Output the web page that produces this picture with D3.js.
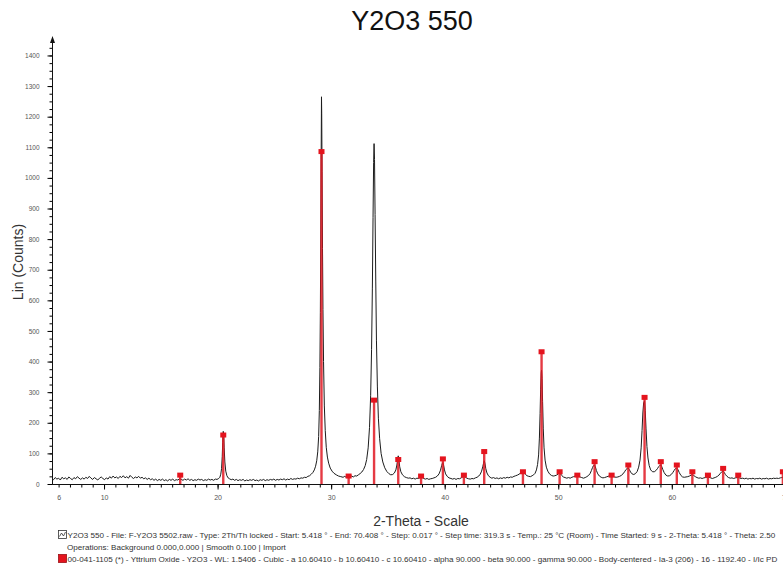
<!DOCTYPE html>
<html>
<head>
<meta charset="utf-8">
<script src="https://cdn.jsdelivr.net/npm/d3@7"></script>
<style>
  body { margin: 0; background: #fff; }
  svg { display: block; }
</style>
</head>
<body>
<svg id="chart" width="783" height="567"></svg>
<script>
// Measured diffraction pattern: [2-Theta (deg), intensity (counts)]
const pattern = [
[5.42,18],[5.55,14],[5.7,21],[5.85,16],[6.0,19],[6.15,13],[6.3,22],[6.45,17],[6.6,20],[6.75,15],[6.9,23],[7.05,18],[7.2,14],[7.35,21],[7.5,17],[7.65,24],[7.8,19],[7.95,15],[8.1,20],[8.25,16],[8.4,22],[8.55,18],[8.7,25],[8.85,19],[9.0,15],[9.15,21],[9.3,17],[9.45,13],[9.6,19],[9.75,23],[9.9,18],[10.05,14],[10.2,20],[10.35,16],[10.5,24],[10.65,19],[10.8,26],[10.95,20],[11.1,23],[11.25,18],[11.4,25],[11.55,21],[11.7,27],[11.85,20],[12.0,24],[12.15,19],[12.3,28],[12.45,22],[12.6,18],[12.75,23],[12.9,20],[13.05,25],[13.2,19],[13.35,22],[13.5,17],[13.65,20],[13.8,15],[13.95,19],[14.1,14],[14.25,17],[14.4,12],[14.55,16],[14.7,11],[14.85,15],[15.0,12],[15.15,16],[15.3,11],[15.45,14],[15.6,10],[15.75,15],[15.9,12],[16.05,16],[16.2,11],[16.35,14],[16.5,13],[16.65,17],[16.8,15],[16.95,12],[17.1,16],[17.25,13],[17.4,17],[17.55,12],[17.7,15],[17.85,11],[18.0,14],[18.15,12],[18.3,16],[18.45,13],[18.6,15],[18.75,11],[18.9,14],[19.05,12],[19.2,16],[19.35,13],[19.5,15],[19.65,12],[19.8,16],[19.95,15],[20.1,18],[20.2,22],[20.28,32],[20.35,50],[20.41,90],[20.45,135],[20.5,172],[20.54,158],[20.58,118],[20.64,72],[20.72,42],[20.82,27],[20.93,20],[21.05,17],[21.2,14],[21.35,16],[21.5,12],[21.65,15],[21.8,11],[21.95,14],[22.1,12],[22.25,15],[22.4,10],[22.55,13],[22.7,11],[22.85,14],[23.0,12],[23.15,15],[23.3,11],[23.45,13],[23.6,10],[23.75,14],[23.9,12],[24.05,15],[24.2,11],[24.35,14],[24.5,12],[24.65,15],[24.8,13],[24.95,16],[25.1,12],[25.25,15],[25.4,13],[25.55,16],[25.7,14],[25.85,17],[26.0,13],[26.15,16],[26.3,14],[26.45,18],[26.6,15],[26.75,17],[26.9,16],[27.05,19],[27.2,17],[27.35,20],[27.5,19],[27.65,22],[27.8,21],[27.95,25],[28.1,27],[28.25,32],[28.4,38],[28.52,46],[28.63,58],[28.73,76],[28.82,105],[28.9,155],[28.96,240],[29.01,380],[29.05,560],[29.09,820],[29.12,1060],[29.15,1265],[29.17,1210],[29.2,1020],[29.24,770],[29.28,570],[29.33,400],[29.4,255],[29.48,175],[29.57,120],[29.67,88],[29.78,68],[29.92,52],[30.08,42],[30.25,35],[30.45,30],[30.65,26],[30.85,24],[31.05,22],[31.2,25],[31.35,21],[31.5,24],[31.65,22],[31.8,26],[31.95,23],[32.1,27],[32.25,26],[32.4,30],[32.55,34],[32.7,39],[32.85,47],[33.0,60],[33.13,80],[33.26,118],[33.38,185],[33.48,290],[33.56,440],[33.63,640],[33.69,870],[33.74,1050],[33.78,1112],[33.82,1060],[33.87,880],[33.93,660],[33.99,470],[34.07,320],[34.16,215],[34.27,148],[34.4,100],[34.55,72],[34.72,53],[34.9,41],[35.08,34],[35.25,30],[35.42,31],[35.57,36],[35.7,46],[35.79,62],[35.86,82],[35.91,92],[35.96,80],[36.04,56],[36.14,40],[36.28,30],[36.45,24],[36.62,21],[36.8,19],[36.95,20],[37.1,17],[37.25,19],[37.4,16],[37.55,19],[37.7,18],[37.82,21],[37.92,24],[38.02,21],[38.15,18],[38.3,16],[38.45,18],[38.6,15],[38.75,17],[38.9,18],[39.05,20],[39.2,22],[39.35,26],[39.5,33],[39.63,45],[39.73,60],[39.8,68],[39.84,70],[39.9,62],[39.98,46],[40.08,33],[40.22,25],[40.38,20],[40.55,18],[40.7,16],[40.85,18],[41.0,15],[41.15,18],[41.3,17],[41.45,20],[41.58,23],[41.69,26],[41.8,23],[41.95,19],[42.1,17],[42.25,16],[42.4,18],[42.55,17],[42.7,20],[42.85,22],[43.0,26],[43.13,32],[43.25,42],[43.35,56],[43.42,68],[43.48,76],[43.54,68],[43.62,50],[43.72,36],[43.85,27],[44.0,22],[44.15,19],[44.3,21],[44.45,18],[44.6,20],[44.75,17],[44.9,20],[45.05,18],[45.2,21],[45.35,19],[45.5,22],[45.65,20],[45.8,23],[45.95,22],[46.1,25],[46.25,27],[46.4,29],[46.55,32],[46.68,36],[46.8,39],[46.89,41],[46.98,38],[47.1,32],[47.25,27],[47.4,25],[47.55,24],[47.7,27],[47.83,30],[47.96,35],[48.08,46],[48.18,64],[48.27,95],[48.34,150],[48.4,230],[48.45,310],[48.5,362],[48.53,372],[48.57,345],[48.62,270],[48.68,180],[48.75,118],[48.84,78],[48.95,55],[49.08,42],[49.23,33],[49.4,28],[49.55,26],[49.7,27],[49.85,29],[49.98,32],[50.06,35],[50.12,36],[50.19,34],[50.3,28],[50.45,23],[50.6,21],[50.75,19],[50.9,21],[51.05,19],[51.2,22],[51.35,24],[51.5,26],[51.6,27],[51.68,28],[51.78,26],[51.92,23],[52.07,21],[52.22,19],[52.37,21],[52.52,24],[52.67,28],[52.8,34],[52.92,44],[53.02,54],[53.1,60],[53.2,62],[53.27,56],[53.36,44],[53.48,33],[53.62,26],[53.78,22],[53.93,20],[54.08,21],[54.23,23],[54.38,25],[54.52,27],[54.62,28],[54.7,28],[54.8,26],[54.95,23],[55.1,22],[55.25,23],[55.4,25],[55.55,28],[55.7,33],[55.84,40],[55.96,47],[56.07,51],[56.17,52],[56.26,47],[56.37,39],[56.5,33],[56.65,31],[56.8,34],[56.95,41],[57.08,55],[57.2,78],[57.3,118],[57.38,175],[57.45,232],[57.52,265],[57.6,272],[57.66,240],[57.73,180],[57.81,122],[57.9,85],[58.01,60],[58.14,46],[58.3,40],[58.46,40],[58.6,44],[58.73,50],[58.85,57],[58.95,61],[59.03,62],[59.1,58],[59.2,48],[59.33,37],[59.48,29],[59.64,26],[59.8,27],[59.95,31],[60.08,37],[60.2,44],[60.31,50],[60.44,52],[60.54,47],[60.66,37],[60.8,28],[60.95,23],[61.1,22],[61.25,23],[61.4,24],[61.55,26],[61.7,29],[61.81,30],[61.92,28],[62.07,24],[62.22,21],[62.37,19],[62.52,20],[62.67,18],[62.82,20],[62.97,21],[63.1,23],[63.18,23],[63.28,22],[63.42,20],[63.57,18],[63.72,20],[63.87,22],[64.02,25],[64.15,29],[64.28,35],[64.4,40],[64.52,42],[64.61,38],[64.72,31],[64.86,25],[65.0,21],[65.15,19],[65.3,20],[65.45,18],[65.6,20],[65.75,21],[65.85,22],[65.95,20],[66.1,18],[66.25,19],[66.4,17],[66.55,19],[66.7,16],[66.85,18],[67.0,17],[67.15,19],[67.3,16],[67.45,18],[67.6,17],[67.75,19],[67.9,16],[68.05,18],[68.2,17],[68.35,19],[68.5,16],[68.65,18],[68.8,17],[68.95,19],[69.1,18],[69.25,19],[69.4,18],[69.55,20],[69.68,21],[69.78,22],[69.9,20],[70.05,18],[70.2,19],[70.408,17]
];

// Reference card 00-041-1105 (Y2O3) line positions and scaled intensities
const refPos = [16.71, 20.50, 29.15, 31.54, 33.78, 35.91, 37.92, 39.84, 41.69, 43.48, 46.89, 48.53, 50.12, 51.68, 53.20, 54.70, 56.17, 57.60, 59.03, 60.44, 61.81, 63.18, 64.52, 65.85, 69.78];
const refInt = [29, 160, 1086, 26, 274, 80, 26, 82, 29, 106, 40, 432, 40, 29, 73, 29, 62, 283, 73, 62, 40, 29, 51, 29, 40];

// Axis ticks
const xTickLabels = [6, 10, 20, 30, 40, 50, 60, 70];
const xMajorTicks = [10, 20, 30, 40, 50, 60, 70];
const yTickLabels = [0, 100, 200, 300, 400, 500, 600, 700, 800, 900, 1000, 1100, 1200, 1300, 1400];

const titleText = "Y2O3 550";
const xLabel = "2-Theta - Scale";
const yLabel = "Lin (Counts)";
const legendLines = [
  "Y2O3 550 - File: F-Y2O3 5502.raw - Type: 2Th/Th locked - Start: 5.418 ° - End: 70.408 ° - Step: 0.017 ° - Step time: 319.3 s - Temp.: 25 °C (Room) - Time Started: 9 s - 2-Theta: 5.418 ° - Theta: 2.50",
  "Operations: Background 0.000,0.000 | Smooth 0.100 | Import",
  "00-041-1105 (*) - Yttrium Oxide - Y2O3 - WL: 1.5406 - Cubic - a 10.60410 - b 10.60410 - c 10.60410 - alpha 90.000 - beta 90.000 - gamma 90.000 - Body-centered - Ia-3 (206) - 16 - 1192.40 - I/Ic PD"
];

const FONT = "'Liberation Sans', Arial, sans-serif";
const svg = d3.select("#chart");

const x = d3.scaleLinear().domain([5.418, 70.408]).range([52, 790]);
const y = d3.scaleLinear().domain([0, 1444]).range([484, 42]);
const x0 = 52.5, y0 = 484.5;

// Title
svg.append("text")
  .attr("x", 412).attr("y", 30)
  .attr("text-anchor", "middle")
  .attr("font-family", FONT).attr("font-size", 27)
  .attr("fill", "#111")
  .text(titleText);

// X axis: minor ticks every degree, longer major ticks, labels
const xMinor = d3.range(6, 71);
const gx = svg.append("g").attr("transform", `translate(0,${y0})`);
gx.append("g").call(d3.axisBottom(x).tickValues(xMinor).tickSize(3).tickFormat(""))
  .call(g => g.select(".domain").remove());
gx.append("g").call(d3.axisBottom(x).tickValues(xMajorTicks).tickSize(5).tickFormat(""))
  .call(g => g.select(".domain").remove());
gx.append("g").call(d3.axisBottom(x).tickValues(xTickLabels).tickSize(0).tickPadding(11).tickFormat(d3.format("d")))
  .call(g => g.select(".domain").remove())
  .call(g => g.selectAll("text").attr("font-family", FONT).attr("font-size", 7).attr("fill", "#555"));
gx.append("line").attr("x1", x0).attr("x2", 790).attr("y1", 0).attr("y2", 0)
  .attr("stroke", "#111").attr("stroke-width", 1);

// Y axis: labelled ticks every 100, minor every 25
const yMinor = d3.range(0, 1426, 25);
const gy = svg.append("g").attr("transform", `translate(${x0},0)`);
gy.append("g").call(d3.axisLeft(y).tickValues(yMinor).tickSize(3).tickFormat(""))
  .call(g => g.select(".domain").remove());
gy.append("g").call(d3.axisLeft(y).tickValues(yTickLabels).tickSize(5).tickPadding(8).tickFormat(d3.format("d")))
  .call(g => g.select(".domain").remove())
  .call(g => g.selectAll("text").attr("font-family", FONT).attr("font-size", 6.5).attr("fill", "#555"));
gy.append("line").attr("x1", 0).attr("x2", 0).attr("y1", y0).attr("y2", 40)
  .attr("stroke", "#111").attr("stroke-width", 1);
gy.append("path").attr("d", "M0,36 L-2.5,43 L2.5,43 Z").attr("fill", "#111");

// Axis titles
svg.append("text")
  .attr("x", 421).attr("y", 526)
  .attr("text-anchor", "middle")
  .attr("font-family", FONT).attr("font-size", 14).attr("fill", "#333")
  .text(xLabel);
svg.append("text")
  .attr("transform", "translate(23,262) rotate(-90)")
  .attr("text-anchor", "middle")
  .attr("font-family", FONT).attr("font-size", 14).attr("fill", "#333")
  .text(yLabel);

// Measured pattern
const line = d3.line().x(d => x(d[0])).y(d => y(d[1]));
svg.append("path")
  .datum(pattern)
  .attr("d", line)
  .attr("fill", "none")
  .attr("stroke", "#1c1c1c")
  .attr("stroke-width", 1)
  .attr("stroke-linejoin", "round");

// Reference sticks with square caps
const refs = refPos.map((p, i) => ({ p, v: refInt[i] }));
const gs = svg.append("g");
gs.selectAll("line").data(refs).join("line")
  .attr("x1", d => x(d.p)).attr("x2", d => x(d.p))
  .attr("y1", y(0)).attr("y2", d => y(d.v))
  .attr("stroke", "#e01822").attr("stroke-width", 2.4).attr("stroke-opacity", 0.85);
gs.selectAll("rect").data(refs).join("rect")
  .attr("x", d => x(d.p) - 3).attr("y", d => y(d.v) - 2.5)
  .attr("width", 6).attr("height", 5)
  .attr("fill", "#e4141e");

// Legend
const lg = svg.append("g").attr("font-family", FONT).attr("font-size", 8.1).attr("fill", "#333");
const legY = [538, 550, 562];
// pattern icon
lg.append("rect").attr("x", 58.5).attr("y", legY[0] - 7.5).attr("width", 8).attr("height", 8)
  .attr("fill", "#fff").attr("stroke", "#333").attr("stroke-width", 0.8);
lg.append("path").attr("d", `M59.5,${legY[0] - 1.5} L61.5,${legY[0] - 5} L63.5,${legY[0] - 2} L65.5,${legY[0] - 6}`)
  .attr("fill", "none").attr("stroke", "#333").attr("stroke-width", 0.8);
// card icon
lg.append("rect").attr("x", 58.5).attr("y", legY[2] - 7.5).attr("width", 8).attr("height", 8)
  .attr("fill", "#e4141e").attr("stroke", "#9a1016").attr("stroke-width", 0.8);
lg.selectAll("text.leg").data(legendLines).join("text")
  .attr("class", "leg")
  .attr("x", (d, i) => i === 1 ? 67 : 67.5)
  .attr("y", (d, i) => legY[i])
  .text(d => d);
</script>
</body>
</html>
